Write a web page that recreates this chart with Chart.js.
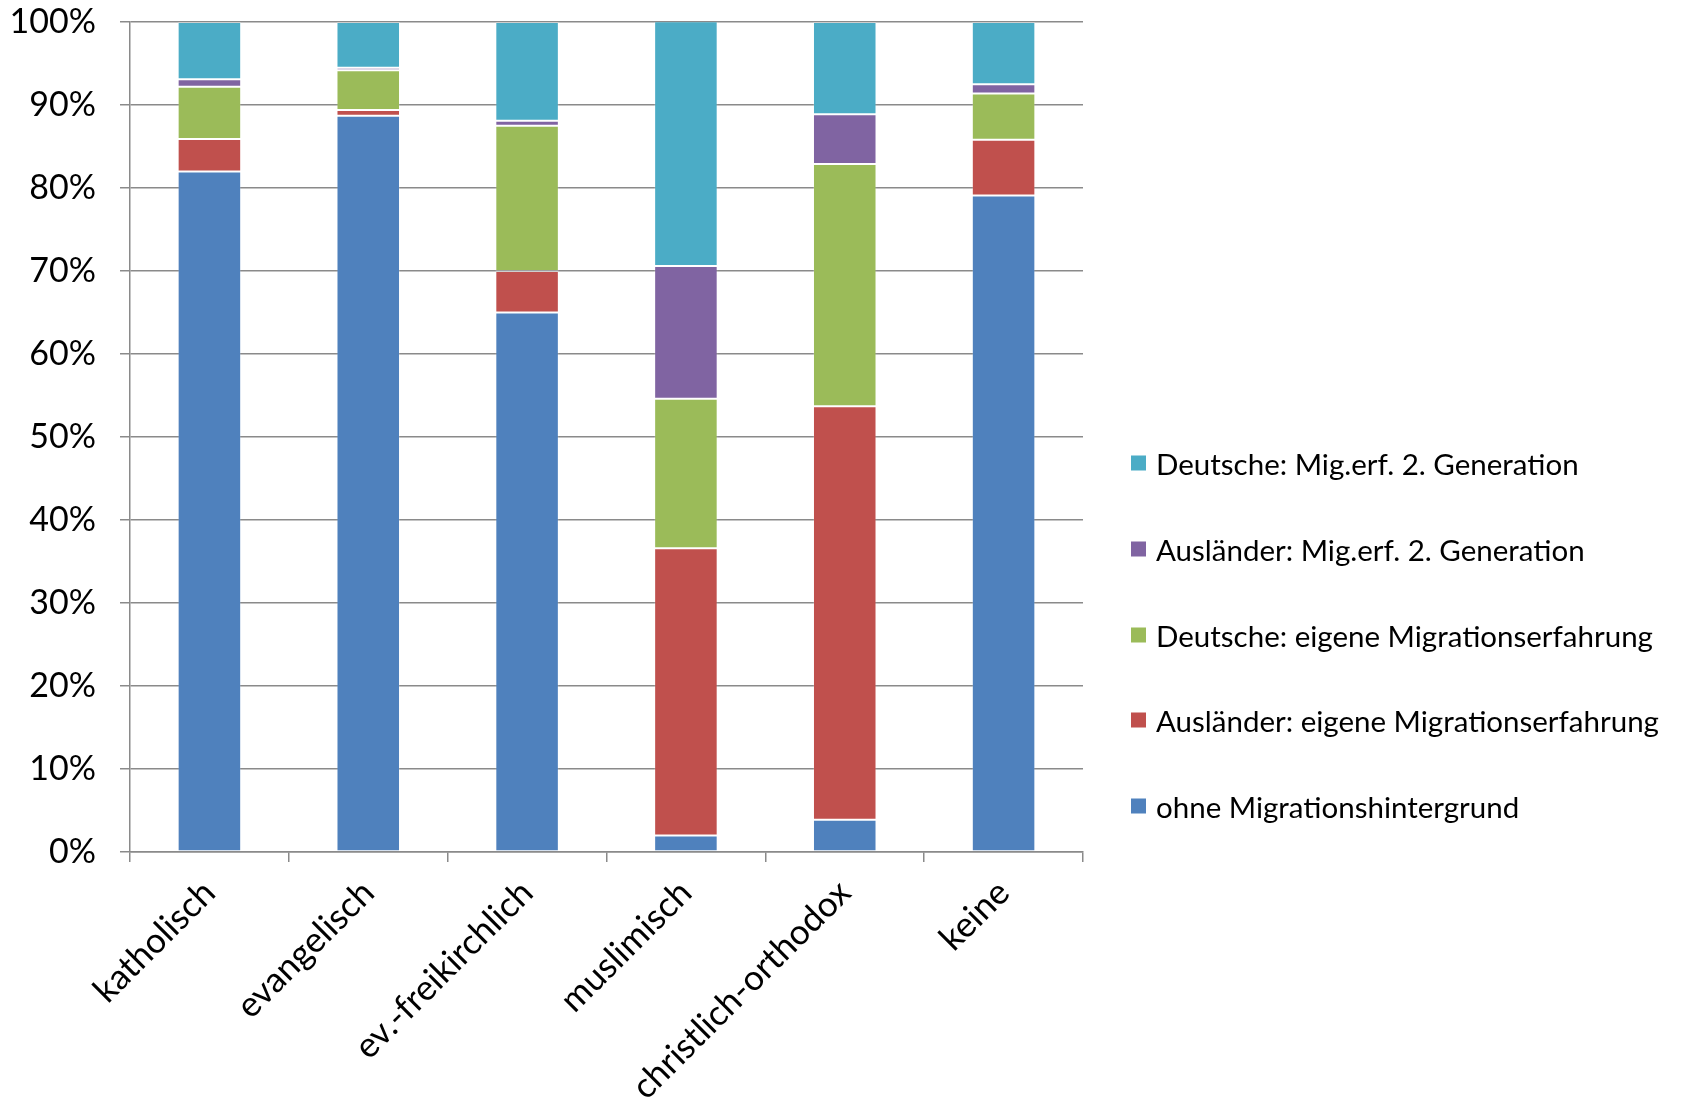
<!DOCTYPE html>
<html lang="de">
<head>
<meta charset="utf-8">
<title>Religionszugehörigkeit nach Migrationshintergrund</title>
<script src="https://cdn.jsdelivr.net/npm/chart.js@4.4.1/dist/chart.umd.min.js"></script>
<style>
  html, body { margin: 0; padding: 0; background: #fff; }
  #wrap { position: relative; width: 1684px; height: 1102px; }
  #legend { position: absolute; left: 1131px; top: 0; font-family: Lato, "Open Sans", sans-serif; font-size: 29.5px; color: #000; }
  .lg-row { position: absolute; left: 0; white-space: nowrap; display: flex; align-items: center; transform: translateY(-50%); }
  .lg-sw { width: 15px; height: 15px; margin-right: 10px; flex: none; }
</style>
</head>
<body>
<div id="wrap">
  <canvas id="relChart" width="1684" height="1102"></canvas>
  <div id="legend"></div>
</div>
<script>
/* Anteile je Religionsgruppe, gestapelt auf 100 % */
const CATEGORIES = ["katholisch", "evangelisch", "ev.-freikirchlich", "muslimisch", "christlich-orthodox", "keine"];
const Y_TICKS = [0, 10, 20, 30, 40, 50, 60, 70, 80, 90, 100];

const SERIES_NAMES = [
  "ohne Migrationshintergrund",
  "Ausländer: eigene Migrationserfahrung",
  "Deutsche: eigene Migrationserfahrung",
  "Ausländer: Mig.erf. 2. Generation",
  "Deutsche: Mig.erf. 2. Generation",
];
const OHNE_MH        = [82.0, 88.7, 65.0,  2.0,  3.9, 79.1];
const AUSL_EIGENE    = [ 3.9,  0.7,  5.0, 34.6, 49.8,  6.7];
const DT_EIGENE      = [ 6.3,  4.8, 17.5, 18.0, 29.2,  5.6];
const AUSL_2GEN      = [ 0.9,  0.3,  0.6, 16.0,  6.0,  1.1];
const DT_2GEN        = [ 6.9,  5.5, 11.9, 29.5, 11.1,  7.5];

(function () {
  const COL = {
    blue: "#4F81BD", red: "#C0504D", green: "#9BBB59", purple: "#8064A2", cyan: "#4BACC6",
    grid: "#8a8a8a", text: "#000000",
  };
  const el = (id) => document.getElementById(id);
  const FONT = "Lato, 'Open Sans', sans-serif";

  const seriesVals = [OHNE_MH, AUSL_EIGENE, DT_EIGENE, AUSL_2GEN, DT_2GEN];
  const seriesCol = [COL.blue, COL.red, COL.green, COL.purple, COL.cyan];

  Chart.defaults.font.family = FONT;
  Chart.defaults.color = COL.text;

  new Chart(el("relChart"), {
    type: "bar",
    data: {
      labels: CATEGORIES,
      datasets: seriesVals.map((v, i) => ({
        label: SERIES_NAMES[i],
        data: v,
        backgroundColor: seriesCol[i],
        borderColor: "rgba(255,255,255,0.18)",
        borderWidth: 1,
        borderSkipped: false,
        categoryPercentage: 1,
        barPercentage: 0.4,
      })),
    },
    options: {
      responsive: false, animation: false,
      layout: { padding: { top: 22, right: 601, left: 0, bottom: 0 } },
      plugins: { legend: { display: false }, tooltip: { enabled: false } },
      scales: {
        x: {
          stacked: true,
          afterFit: (s) => { s.height = 250; s.paddingLeft = 0; s.paddingRight = 0; },
          grid: { display: true, drawOnChartArea: false, offset: true, tickLength: 10, color: COL.grid, lineWidth: 1.5 },
          border: { color: COL.grid, width: 1.5 },
          ticks: { font: { size: 35 }, color: COL.text, maxRotation: 45, minRotation: 45, padding: 10, autoSkip: false },
        },
        y: {
          stacked: true, min: 0, max: 100,
          afterFit: (s) => { s.width = 130; s.paddingTop = 0; s.paddingBottom = 0; },
          afterBuildTicks: (s) => { s.ticks = Y_TICKS.map((v) => ({ value: v })); },
          grid: { color: COL.grid, lineWidth: 1.5, tickLength: 10 },
          border: { color: COL.grid, width: 1.5 },
          ticks: { font: { size: 34 }, color: COL.text, padding: 24, callback: (v) => v + "%" },
        },
      },
    },
  });

  // legend on the right, listed top-down in stacking order (top segment first)
  const rowY = [463, 549, 635, 720, 806];
  el("legend").innerHTML = SERIES_NAMES.map((n, i) => ({ n, c: seriesCol[i] })).reverse()
    .map((r, i) => `<div class="lg-row" style="top:${rowY[i]}px"><span class="lg-sw" style="background:${r.c}"></span>${r.n}</div>`)
    .join("");
})();
</script>
</body>
</html>
